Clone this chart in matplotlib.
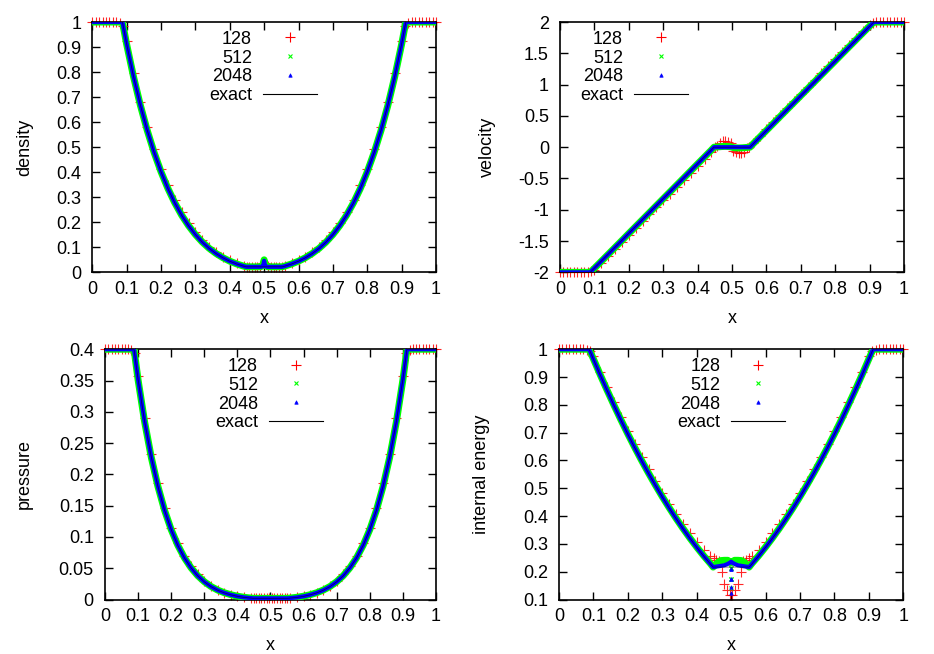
import matplotlib
matplotlib.use("Agg")
import matplotlib.pyplot as plt
from matplotlib.lines import Line2D

plt.rcParams["font.family"] = ["Liberation Sans", "DejaVu Sans"]
plt.rcParams["font.size"] = 13

# -----------------------
# Data
# -----------------------
# exact solution
EX = [0.0, 0.08775, 0.10, 0.12, 0.14, 0.16, 0.18, 0.20, 0.22, 0.24, 0.26, 0.28, 0.30,
      0.32, 0.34, 0.36, 0.38, 0.40, 0.42, 0.44, 0.44775, 0.5, 0.55225, 0.56, 0.58, 0.60,
      0.62, 0.64, 0.66, 0.68, 0.70, 0.72, 0.74, 0.76, 0.78, 0.80, 0.82, 0.84, 0.86, 0.88,
      0.90, 0.91225, 1.0]
RHO_EXACT = [1.0, 1.0, 0.9123, 0.7825, 0.6678, 0.5670, 0.4788, 0.4019, 0.3352, 0.2777,
             0.2283, 0.1863, 0.1507, 0.1207, 0.0957, 0.0751, 0.0581, 0.0444, 0.0334, 0.0247,
             0.0219, 0.0219, 0.0219, 0.0247, 0.0334, 0.0444, 0.0581, 0.0751, 0.0957, 0.1207,
             0.1507, 0.1863, 0.2283, 0.2777, 0.3352, 0.4019, 0.4788, 0.5670, 0.6678, 0.7825,
             0.9123, 1.0, 1.0]
U_EXACT = [-2.0, -2.0, -1.932, -1.821, -1.710, -1.599, -1.488, -1.376, -1.265, -1.154,
           -1.043, -0.932, -0.821, -0.710, -0.599, -0.488, -0.376, -0.265, -0.154, -0.043,
           0.0, 0.0, 0.0, 0.043, 0.154, 0.265, 0.376, 0.488, 0.599, 0.710, 0.821, 0.932,
           1.043, 1.154, 1.265, 1.376, 1.488, 1.599, 1.710, 1.821, 1.932, 2.0, 2.0]
P_EXACT = [0.4, 0.4, 0.3518, 0.2837, 0.2273, 0.1807, 0.1426, 0.1116, 0.0866, 0.0665,
           0.0506, 0.0380, 0.0283, 0.0207, 0.0150, 0.0107, 0.0075, 0.0051, 0.0034, 0.0023,
           0.0019, 0.0019, 0.0019, 0.0023, 0.0034, 0.0051, 0.0075, 0.0107, 0.0150, 0.0207,
           0.0283, 0.0380, 0.0506, 0.0665, 0.0866, 0.1116, 0.1426, 0.1807, 0.2273, 0.2837,
           0.3518, 0.4, 0.4]
E_EXACT = [1.0, 1.0, 0.9640, 0.9065, 0.8509, 0.7970, 0.7448, 0.6944, 0.6458, 0.5990,
           0.5539, 0.5106, 0.4690, 0.4292, 0.3912, 0.3549, 0.3204, 0.2877, 0.2567, 0.2275,
           0.2167, 0.2167, 0.2167, 0.2275, 0.2567, 0.2877, 0.3204, 0.3549, 0.3912, 0.4292,
           0.4690, 0.5106, 0.5539, 0.5990, 0.6458, 0.6944, 0.7448, 0.7970, 0.8509, 0.9065,
           0.9640, 1.0, 1.0]

# 128 cells (shown at a subset of cells)
X_128 = [0.00, 0.01, 0.02, 0.03, 0.04, 0.05, 0.06, 0.07, 0.08, 0.09,
         0.10, 0.12, 0.14, 0.16, 0.18, 0.20, 0.22, 0.24, 0.26, 0.28, 0.30, 0.32, 0.34,
         0.36, 0.38, 0.40, 0.42, 0.44,
         0.4492, 0.4570, 0.4648, 0.4727, 0.4805, 0.4883, 0.4961,
         0.5039, 0.5117, 0.5195, 0.5273, 0.5352, 0.5430, 0.5508,
         0.56, 0.58, 0.60, 0.62, 0.64, 0.66, 0.68, 0.70, 0.72, 0.74, 0.76, 0.78, 0.80,
         0.82, 0.84, 0.86, 0.88, 0.90,
         0.91, 0.92, 0.93, 0.94, 0.95, 0.96, 0.97, 0.98, 0.99, 1.00]
RHO_128 = [1, 1, 1, 1, 1, 1, 1, 1, 0.998, 0.985,
           0.925, 0.795, 0.680, 0.579, 0.491, 0.414, 0.347, 0.289, 0.240, 0.197, 0.160,
           0.129, 0.103, 0.081, 0.063, 0.048, 0.036, 0.027,
           0.023, 0.022, 0.021, 0.021, 0.022, 0.026, 0.036,
           0.036, 0.026, 0.022, 0.021, 0.021, 0.022, 0.023,
           0.027, 0.036, 0.048, 0.063, 0.081, 0.103, 0.129, 0.160, 0.197, 0.240, 0.289,
           0.347, 0.414, 0.491, 0.579, 0.680, 0.795, 0.925,
           0.985, 0.998, 1, 1, 1, 1, 1, 1, 1, 1]
U_128 = [-2, -2, -2, -2, -2, -2, -2, -2, -1.998, -1.985,
         -1.960, -1.850, -1.740, -1.629, -1.518, -1.407, -1.296, -1.185, -1.074, -0.963,
         -0.852, -0.741, -0.630, -0.519, -0.408, -0.297, -0.186, -0.070,
         0.0, 0.02, 0.07, 0.10, 0.10, 0.08, 0.06,
         -0.06, -0.08, -0.10, -0.10, -0.07, -0.02, 0.0,
         0.070, 0.186, 0.297, 0.408, 0.519, 0.630, 0.741, 0.852, 0.963, 1.074, 1.185,
         1.296, 1.407, 1.518, 1.629, 1.740, 1.850, 1.960,
         1.985, 1.998, 2, 2, 2, 2, 2, 2, 2, 2]
P_128 = [0.4, 0.4, 0.4, 0.4, 0.4, 0.4, 0.4, 0.4, 0.399, 0.394,
         0.358, 0.290, 0.233, 0.186, 0.147, 0.115, 0.090, 0.069, 0.053, 0.040, 0.030,
         0.022, 0.016, 0.011, 0.008, 0.005, 0.0035, 0.0024,
         0.0020, 0.0019, 0.0018, 0.0018, 0.0018, 0.0019, 0.0021,
         0.0021, 0.0019, 0.0018, 0.0018, 0.0018, 0.0019, 0.0020,
         0.0024, 0.0035, 0.005, 0.008, 0.011, 0.016, 0.022, 0.030, 0.040, 0.053, 0.069,
         0.090, 0.115, 0.147, 0.186, 0.233, 0.290, 0.358,
         0.394, 0.399, 0.4, 0.4, 0.4, 0.4, 0.4, 0.4, 0.4, 0.4]
E_128 = [1, 1, 1, 1, 1, 1, 1, 1, 0.999, 0.992,
         0.975, 0.918, 0.863, 0.809, 0.757, 0.707, 0.659, 0.612, 0.568, 0.525, 0.484,
         0.445, 0.408, 0.372, 0.339, 0.307, 0.279, 0.256,
         0.248, 0.243, 0.238, 0.200, 0.157, 0.133, 0.117,
         0.117, 0.133, 0.157, 0.200, 0.238, 0.243, 0.248,
         0.256, 0.279, 0.307, 0.339, 0.372, 0.408, 0.445, 0.484, 0.525, 0.568, 0.612,
         0.659, 0.707, 0.757, 0.809, 0.863, 0.918, 0.975,
         0.992, 0.999, 1, 1, 1, 1, 1, 1, 1, 1]

# 512 and 2048 cells (dense enough to read as a band)
X_FINE = [0.0, 0.08775, 0.10, 0.12, 0.14, 0.16, 0.18, 0.20, 0.22, 0.24, 0.26, 0.28, 0.30,
          0.32, 0.34, 0.36, 0.38, 0.40, 0.42, 0.44,
          0.44775, 0.46, 0.47, 0.48, 0.49, 0.497, 0.5, 0.503, 0.51, 0.52, 0.53, 0.54, 0.55225,
          0.56, 0.58, 0.60, 0.62, 0.64, 0.66, 0.68, 0.70, 0.72, 0.74, 0.76, 0.78, 0.80,
          0.82, 0.84, 0.86, 0.88, 0.90, 0.91225, 1.0]
RHO_512 = [1.0, 1.0, 0.9110, 0.7815, 0.6670, 0.5664, 0.4784, 0.4017, 0.3352, 0.2778,
           0.2285, 0.1866, 0.1510, 0.1210, 0.0960, 0.0754, 0.0584, 0.0446, 0.0336, 0.0249,
           0.0222, 0.0220, 0.0219, 0.0219, 0.0222, 0.030, 0.050, 0.030, 0.0222, 0.0219,
           0.0219, 0.0220, 0.0222,
           0.0249, 0.0336, 0.0446, 0.0584, 0.0754, 0.0960, 0.1210, 0.1510, 0.1866, 0.2285,
           0.2778, 0.3352, 0.4017, 0.4784, 0.5664, 0.6670, 0.7815, 0.9110, 1.0, 1.0]
RHO_2048 = [1.0, 1.0, 0.9123, 0.7825, 0.6678, 0.5670, 0.4788, 0.4019, 0.3352, 0.2777,
            0.2283, 0.1863, 0.1507, 0.1207, 0.0957, 0.0751, 0.0581, 0.0444, 0.0334, 0.0247,
            0.0219, 0.0219, 0.0219, 0.0219, 0.0219, 0.024, 0.046, 0.024, 0.0219, 0.0219,
            0.0219, 0.0219, 0.0219,
            0.0247, 0.0334, 0.0444, 0.0581, 0.0751, 0.0957, 0.1207, 0.1507, 0.1863, 0.2283,
            0.2777, 0.3352, 0.4019, 0.4788, 0.5670, 0.6678, 0.7825, 0.9123, 1.0, 1.0]
U_512 = [-2.0, -2.0, -1.935, -1.824, -1.713, -1.602, -1.491, -1.379, -1.268, -1.157,
         -1.046, -0.935, -0.824, -0.713, -0.602, -0.491, -0.379, -0.268, -0.157, -0.046,
         0.0, 0.005, 0.010, 0.012, 0.010, 0.005, 0.0, -0.005, -0.010, -0.012, -0.010,
         -0.005, 0.0,
         0.046, 0.157, 0.268, 0.379, 0.491, 0.602, 0.713, 0.824, 0.935, 1.046, 1.157,
         1.268, 1.379, 1.491, 1.602, 1.713, 1.824, 1.935, 2.0, 2.0]
U_2048 = [-2.0, -2.0, -1.932, -1.821, -1.710, -1.599, -1.488, -1.376, -1.265, -1.154,
          -1.043, -0.932, -0.821, -0.710, -0.599, -0.488, -0.376, -0.265, -0.154, -0.043,
          0.0, 0.0, 0.0, 0.0, 0.0, 0.0, 0.0, 0.0, 0.0, 0.0, 0.0, 0.0, 0.0,
          0.043, 0.154, 0.265, 0.376, 0.488, 0.599, 0.710, 0.821, 0.932, 1.043, 1.154,
          1.265, 1.376, 1.488, 1.599, 1.710, 1.821, 1.932, 2.0, 2.0]
P_512 = [0.4, 0.4, 0.3510, 0.2832, 0.2270, 0.1806, 0.1426, 0.1117, 0.0868, 0.0667,
         0.0508, 0.0382, 0.0285, 0.0209, 0.0152, 0.0109, 0.0077, 0.0053, 0.0036, 0.0024,
         0.0020, 0.0019, 0.0019, 0.0019, 0.0019, 0.0019, 0.0019, 0.0019, 0.0019, 0.0019,
         0.0019, 0.0019, 0.0020,
         0.0024, 0.0036, 0.0053, 0.0077, 0.0109, 0.0152, 0.0209, 0.0285, 0.0382, 0.0508,
         0.0667, 0.0868, 0.1117, 0.1426, 0.1806, 0.2270, 0.2832, 0.3510, 0.4, 0.4]
P_2048 = [0.4, 0.4, 0.3518, 0.2837, 0.2273, 0.1807, 0.1426, 0.1116, 0.0866, 0.0665,
          0.0506, 0.0380, 0.0283, 0.0207, 0.0150, 0.0107, 0.0075, 0.0051, 0.0034, 0.0023,
          0.0019, 0.0019, 0.0019, 0.0019, 0.0019, 0.0019, 0.0019, 0.0019, 0.0019, 0.0019,
          0.0019, 0.0019, 0.0019,
          0.0023, 0.0034, 0.0051, 0.0075, 0.0107, 0.0150, 0.0207, 0.0283, 0.0380, 0.0506,
          0.0665, 0.0866, 0.1116, 0.1426, 0.1807, 0.2273, 0.2837, 0.3518, 0.4, 0.4]
E_512 = [1.0, 1.0, 0.9650, 0.9075, 0.8519, 0.7980, 0.7458, 0.6954, 0.6468, 0.6000,
         0.5549, 0.5116, 0.4700, 0.4302, 0.3922, 0.3559, 0.3214, 0.2887, 0.2577, 0.2290,
         0.2167, 0.232, 0.240, 0.241, 0.241, 0.235, 0.232, 0.235, 0.241, 0.241, 0.240,
         0.232, 0.2167,
         0.2290, 0.2577, 0.2887, 0.3214, 0.3559, 0.3922, 0.4302, 0.4700, 0.5116, 0.5549,
         0.6000, 0.6468, 0.6954, 0.7458, 0.7980, 0.8519, 0.9075, 0.9650, 1.0, 1.0]
E_2048 = [1.0, 1.0, 0.9640, 0.9065, 0.8509, 0.7970, 0.7448, 0.6944, 0.6458, 0.5990,
          0.5539, 0.5106, 0.4690, 0.4292, 0.3912, 0.3549, 0.3204, 0.2877, 0.2567, 0.2275,
          0.2167, 0.219, 0.221, 0.223, 0.228, 0.233, 0.236, 0.233, 0.228, 0.223, 0.221,
          0.219, 0.2167,
          0.2275, 0.2567, 0.2877, 0.3204, 0.3549, 0.3912, 0.4292, 0.4690, 0.5106, 0.5539,
          0.5990, 0.6458, 0.6944, 0.7448, 0.7970, 0.8509, 0.9065, 0.9640, 1.0, 1.0]

# cells right at the centre that dip in internal energy
CORE_X_512 = [0.499, 0.501, 0.4995, 0.5005, 0.5]
CORE_E_512 = [0.215, 0.215, 0.175, 0.175, 0.14]
CORE_X_2048 = [0.4998, 0.5002, 0.4999, 0.5001, 0.5, 0.5]
CORE_E_2048 = [0.21, 0.21, 0.175, 0.175, 0.145, 0.125]

LEGEND_LABELS = ["128", "512", "2048", "exact"]
X_TICKS = [0, 0.1, 0.2, 0.3, 0.4, 0.5, 0.6, 0.7, 0.8, 0.9, 1]
X_TICK_LABELS = ["0", "0.1", "0.2", "0.3", "0.4", "0.5", "0.6", "0.7", "0.8", "0.9", "1"]

RED, GREEN, BLUE = "#ff0000", "#00ff00", "#0000ff"

# -----------------------
# Plot
# -----------------------
fig = plt.figure(figsize=(9.34, 6.54), dpi=100)

panels = [
    # rect, ylabel, ylim, yticks, ylabel x, legend x, data
    ([0.0988, 0.5836, 0.3680, 0.3827], "density", (0, 1),
     [0, 0.1, 0.2, 0.3, 0.4, 0.5, 0.6, 0.7, 0.8, 0.9, 1], -0.172, 0.654,
     (RHO_128, RHO_512, RHO_2048, RHO_EXACT)),
    ([0.5996, 0.5836, 0.3683, 0.3827], "velocity", (-2, 2),
     [-2, -1.5, -1, -0.5, 0, 0.5, 1, 1.5, 2], -0.187, 0.372,
     (U_128, U_512, U_2048, U_EXACT)),
    ([0.1124, 0.0833, 0.3544, 0.3827], "pressure", (0, 0.4),
     [0, 0.05, 0.1, 0.15, 0.2, 0.25, 0.3, 0.35, 0.4], -0.217, 0.659,
     (P_128, P_512, P_2048, P_EXACT)),
    ([0.5985, 0.0833, 0.3686, 0.3827], "internal energy", (0.1, 1),
     [0.1, 0.2, 0.3, 0.4, 0.5, 0.6, 0.7, 0.8, 0.9, 1], -0.199, 0.657,
     (E_128, E_512, E_2048, E_EXACT)),
]

handles = [
    Line2D([], [], ls="none", marker="+", color=RED, ms=6.5, mew=0.8),
    Line2D([], [], ls="none", marker="x", color=GREEN, ms=3.5, mew=0.8),
    Line2D([], [], ls="none", marker="^", color=BLUE, ms=2.5, mew=0.5),
    Line2D([], [], color="black", lw=0.8),
]

for rect, ylabel, ylim, yticks, ylab_x, leg_x, (y128, y512, y2048, yex) in panels:
    ax = fig.add_axes(rect)

    ax.plot(X_128, y128, ls="none", marker="+", color=RED, ms=6.5, mew=0.8,
            alpha=0.85, clip_on=False, zorder=2)
    ax.plot(X_FINE, y512, color=GREEN, lw=5.0, zorder=3)
    ax.plot(X_FINE, y2048, color=BLUE, lw=3.0, zorder=4)
    ax.plot(EX, yex, color="black", lw=0.5, alpha=0.7, zorder=5)

    if ylabel == "internal energy":
        ax.plot(CORE_X_512, CORE_E_512, ls="none", marker="x", color=GREEN,
                ms=3.5, mew=0.8, zorder=3)
        ax.plot(CORE_X_2048, CORE_E_2048, ls="none", marker="^", color=BLUE,
                ms=2.5, mew=0.5, zorder=4)

    ax.set_xlim(0, 1)
    ax.set_ylim(*ylim)
    ax.set_xticks(X_TICKS)
    ax.set_xticklabels(X_TICK_LABELS)
    ax.set_yticks(yticks)
    ax.set_yticklabels([f"{t:g}" for t in yticks])
    ax.tick_params(direction="in", length=6, width=1, top=True, right=True,
                   labelsize=13)
    ax.tick_params(axis="x", pad=6)
    ax.tick_params(axis="y", pad=8)
    for s in ax.spines.values():
        s.set_linewidth(1.2)

    ax.set_xlabel("x", fontsize=13)
    ax.xaxis.set_label_coords(0.5, -0.15)
    ax.set_ylabel(ylabel, fontsize=13)
    ax.yaxis.set_label_coords(ylab_x, 0.5)

    ax.legend(handles, LEGEND_LABELS, loc="upper right", bbox_to_anchor=(leg_x, 0.965),
              frameon=False, markerfirst=False, handlelength=3.0, handletextpad=0.6,
              labelspacing=0.1, borderpad=0, borderaxespad=0, fontsize=13)

fig.savefig("out.png", dpi=100)
